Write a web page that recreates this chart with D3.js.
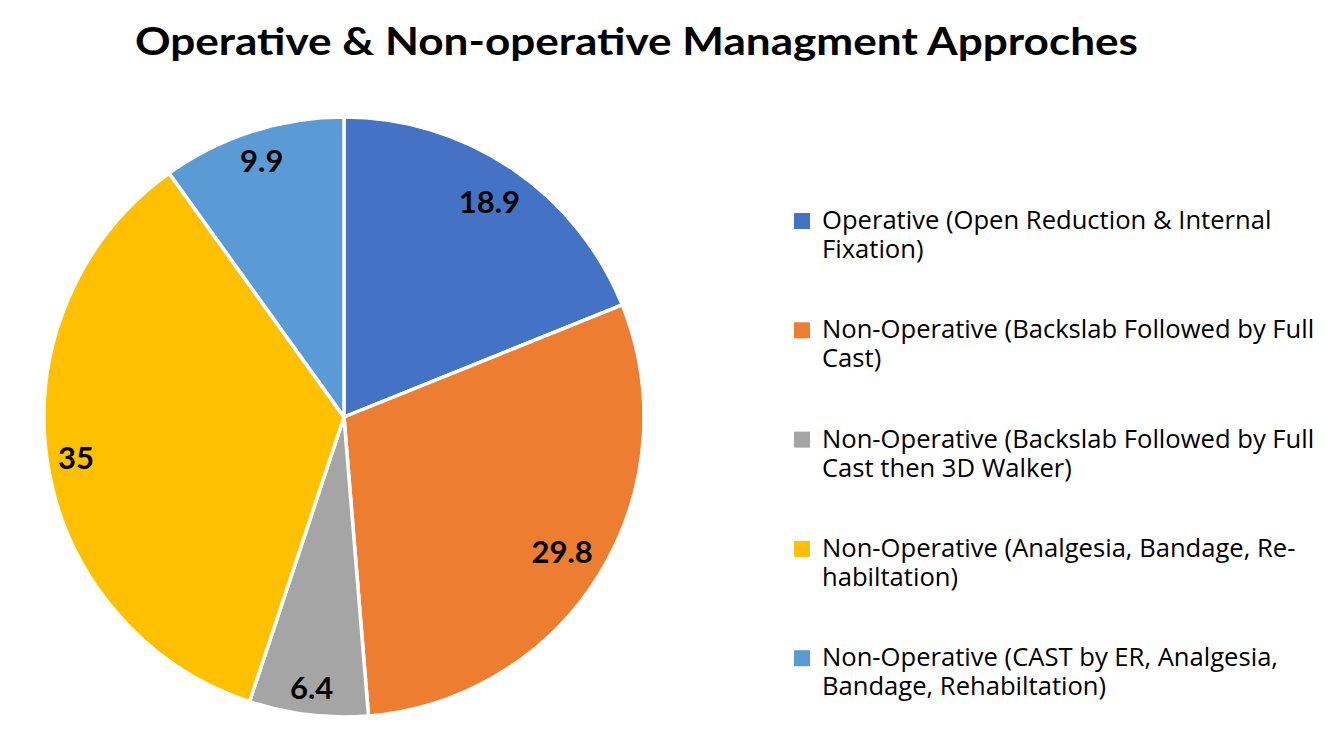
<!DOCTYPE html>
<html>
<head>
<meta charset="utf-8">
<script src="https://cdn.jsdelivr.net/npm/d3@7"></script>
<style>
  body { margin: 0; background: #fff; }
  svg { display: block; }
</style>
</head>
<body>
<div id="vis"></div>
<script>
// chart data
const categories = [
    "Operative (Open Reduction & Internal Fixation)",
    "Non-Operative (Backslab Followed by Full Cast)",
    "Non-Operative (Backslab Followed by Full Cast then 3D Walker)",
    "Non-Operative (Analgesia, Bandage, Re-habiltation)",
    "Non-Operative (CAST by ER, Analgesia, Bandage, Rehabiltation)"
];
// legend lines, wrapped the way the original wraps them
const legendLines = [
    ["Operative (Open Reduction & Internal", "Fixation)"],
    ["Non-Operative (Backslab Followed by Full", "Cast)"],
    ["Non-Operative (Backslab Followed by Full", "Cast then 3D Walker)"],
    ["Non-Operative (Analgesia, Bandage, Re-", "habiltation)"],
    ["Non-Operative (CAST by ER, Analgesia,", "Bandage, Rehabiltation)"]
];
const values = [18.9, 29.8, 6.4, 35, 9.9];
const colors = ["#4472C4", "#ED7D31", "#A5A5A5", "#FFC000", "#5B9BD5"];
const title = "Operative & Non-operative Managment Approches";

const width = 1341, height = 729;
const font = "Lato, 'Open Sans', sans-serif";
const legendFont = "'Open Sans', 'Noto Sans', sans-serif";

const svg = d3.select("#vis").append("svg")
    .attr("width", width)
    .attr("height", height);

// title
svg.append("text")
    .attr("x", 135)
    .attr("y", 55)
    .attr("textLength", 1003)
    .attr("lengthAdjust", "spacingAndGlyphs")
    .style("font", `bold 38px ${font}`)
    .attr("fill", "#000")
    .text(title);

// pie
const cx = 344, cy = 417, radius = 300;

const pie = d3.pie().sort(null).value(d => d)(values);
const arc = d3.arc().innerRadius(0).outerRadius(radius);

const gPie = svg.append("g")
    .attr("transform", `translate(${cx},${cy})`);

gPie.selectAll("path")
    .data(pie)
    .join("path")
    .attr("d", arc)
    .attr("fill", (d, i) => colors[i])
    .attr("stroke", "#fff")
    .attr("stroke-width", 3.5)
    .attr("stroke-linejoin", "round");

// labels at "inside end": push the label box outward until its outer corner meets the rim
const labels = gPie.selectAll("text")
    .data(pie)
    .join("text")
    .attr("text-anchor", "middle")
    .attr("dy", "0.36em")
    .style("font", `bold 31px ${font}`)
    .attr("fill", "#000")
    .text(d => d.data);

labels.each(function (d) {
    const w = this.getComputedTextLength() + 6;
    const h = 38;
    const a = (d.startAngle + d.endAngle) / 2;
    const sx = Math.sin(a), sy = -Math.cos(a);
    const ox = Math.sign(sx) * w / 2, oy = Math.sign(sy) * h / 2;
    const target = radius - 5;
    // solve |d*s + o| = target for d
    const b = 2 * (sx * ox + sy * oy);
    const c = ox * ox + oy * oy - target * target;
    const dist = (-b + Math.sqrt(b * b - 4 * c)) / 2;
    d3.select(this)
        .attr("x", dist * sx)
        .attr("y", dist * sy);
});

// legend
const legend = svg.append("g")
    .attr("transform", "translate(794,0)");

const item = legend.selectAll("g")
    .data(categories)
    .join("g")
    .attr("transform", (d, i) => `translate(0,${229 + i * 109.3})`);

item.append("rect")
    .attr("x", 0)
    .attr("y", -16)
    .attr("width", 16)
    .attr("height", 16)
    .attr("fill", (d, i) => colors[i]);

item.append("text")
    .attr("x", 28)
    .style("font", `25.6px ${legendFont}`)
    .attr("fill", "#000")
    .selectAll("tspan")
    .data((d, i) => legendLines[i])
    .join("tspan")
    .attr("x", 28)
    .attr("y", (d, j) => j * 29)
    .text(d => d);
</script>
</body>
</html>
